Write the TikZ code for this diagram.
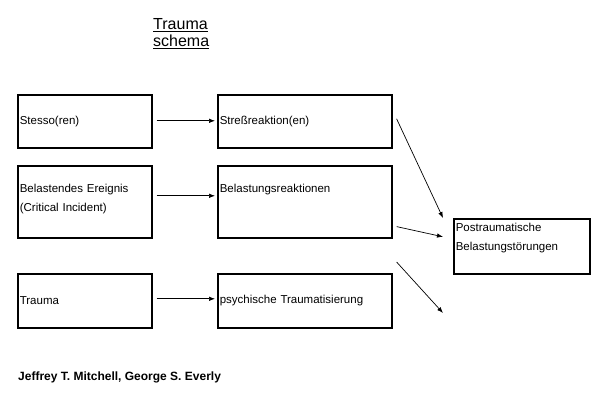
\documentclass[tikz,border=0pt]{standalone}
\usepackage{fontspec}
\setmainfont{Liberation Sans}
\usetikzlibrary{arrows.meta}

\begin{document}
\begin{tikzpicture}[
            x=1pt, y=-1pt,
            stepbox/.style={
                rectangle, draw=black, line width=1.6pt,
                anchor=north west, inner xsep=2pt, inner ysep=0pt,
                align=left, font=\fontsize{11.5}{19}\selectfont
            },
            causebox/.style={stepbox, text width=130pt},
            reactbox/.style={stepbox, text width=170pt},
            resultbox/.style={stepbox, text width=132pt, minimum height=55pt},
            arr/.style={-{Latex[length=6pt,width=4.5pt]}, line width=0.7pt}
        ]
            % page
            \fill[white] (0,0) rectangle (595,403);
            \useasboundingbox (0,0) rectangle (595,403);

            % title
            \node[anchor=north west, inner sep=0pt, align=left,
                  font=\fontsize{16}{17}\selectfont] (title) at (153,18)
                {\underline{Trauma}\\\underline{schema}};

            % causes
            \node[causebox, minimum height=53pt] (stressor) at (17,94) {Stesso(ren)};
            \node[causebox, minimum height=72pt] (event) at (17,165)
                {Belastendes Ereignis\\(Critical Incident)\\[-11pt]\mbox{}};
            \node[causebox, minimum height=54pt] (trauma) at (17,273) {Trauma};

            % reactions
            \node[reactbox, minimum height=53pt] (stressreact) at (217,94) {Streßreaktion(en)};
            \node[reactbox, minimum height=72pt] (burdenreact) at (217,165)
                {Belastungsreaktionen\\\mbox{}\\[-11pt]\mbox{}};
            \node[reactbox, minimum height=54pt] (traumatis) at (217,273) {psychische Traumatisierung};

            % result
            \node[resultbox] (ptbs) at (453,218)
                {Postraumatische\\Belastungstörungen\\\mbox{}};

            \coordinate (freeend) at (443,313);

            % arrows
            \draw[arr] ([shift={(4,-0.5)}]stressor.east) -- ([shift={(-2,-0.5)}]stressreact.west);
            \draw[arr] ([shift={(4,-6)}]event.east) -- ([shift={(-2,-6)}]burdenreact.west);
            \draw[arr] ([shift={(4,-2)}]trauma.east) -- ([shift={(-2,-2)}]traumatis.west);

            \draw[arr] ([shift={(4,-2.5)}]stressreact.east) -- ([shift={(-10,0)}]ptbs.north west);
            \draw[arr] ([shift={(4,-12)}]burdenreact.south east) -- ([shift={(-10,-9.5)}]ptbs.west);
            \draw[arr] ([shift={(4,-11)}]traumatis.north east) -- (freeend);

            % source
            \node[anchor=base west, inner sep=0pt, font=\fontsize{12}{14}\selectfont\bfseries]
                (source) at (18,381) {Jeffrey T. Mitchell, George S. Everly};
        \end{tikzpicture}
\end{document}
